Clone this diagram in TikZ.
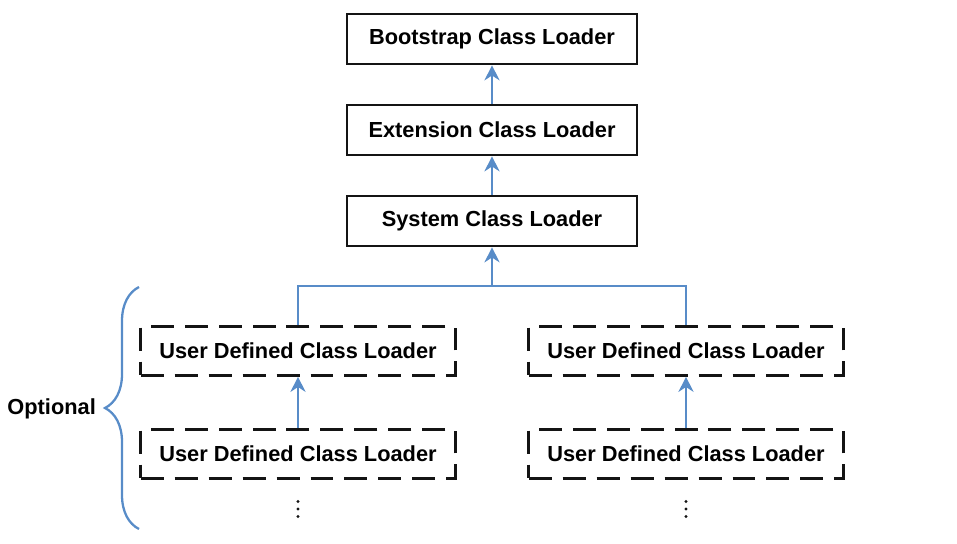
\documentclass[tikz,border=0pt]{standalone}
\usepackage{fontspec}
\setmainfont{Liberation Sans}
\usetikzlibrary{arrows.meta,calc,decorations.pathreplacing}
\definecolor{link}{RGB}{88,140,200}
\definecolor{ink}{RGB}{20,20,20}
\tikzset{
  >={Stealth[length=3mm,width=3mm]},
  loader/.style={draw=ink,line width=1.5pt,fill=white,inner sep=0pt,
    minimum width=5.8cm,minimum height=1cm,
    font=\fontsize{12.4}{14}\selectfont\bfseries},
  userbox/.style={loader,dash pattern=on 0.46cm off 0.22cm,minimum width=6.3cm,
    minimum height=0.98cm},
  flow/.style={draw=link,line width=1.6pt},
  dots/.style={inner sep=0pt,minimum size=0.4cm},
}

\begin{document}
\begin{tikzpicture}[x=0.02cm,y=-0.02cm]
  \useasboundingbox (0,0) rectangle (957,544);
  % main chain
  \node[loader] (boot) at (492,39) {Bootstrap Class Loader};
  \node[loader] (ext) at (492,130) {Extension Class Loader};
  \node[loader] (sys) at (492,221) {System Class Loader};
  % user defined loaders
  \node[userbox] (ul1) at (298,351) {User Defined Class Loader};
  \node[userbox] (ul2) at (298,454) {User Defined Class Loader};
  \node[userbox] (ur1) at (686,351) {User Defined Class Loader};
  \node[userbox] (ur2) at (686,454) {User Defined Class Loader};
  \node[dots] (dl) at (298,509) {};
  \node[dots] (dr) at (686,509) {};
  \foreach \n in {dl,dr}
    \foreach \d in {-7.5,0,7.5}
      \fill[ink] ($(\n)+(0,\d)$) circle (1.6);
  \coordinate (join) at (492,286);

  \draw[flow,->] (ext) -- (boot);
  \draw[flow,->] (sys) -- (ext);
  \draw[flow,->] (join) -- (sys);
  \draw[flow] (ul1.north) |- (join) -| (ur1.north);
  \draw[flow,->] (ul2) -- (ul1);
  \draw[flow,->] (ur2) -- (ur1);

  % optional brace
  \coordinate (bb) at (139,529);
  \coordinate (bt) at (139,287);
  \draw[flow,line width=1.3pt,decorate,decoration={brace,amplitude=0.68cm}] (bb) -- (bt);
  \node[anchor=east,font=\fontsize{12.4}{14}\selectfont\bfseries] (opt) at (102,409) {Optional};
\end{tikzpicture}
\end{document}
